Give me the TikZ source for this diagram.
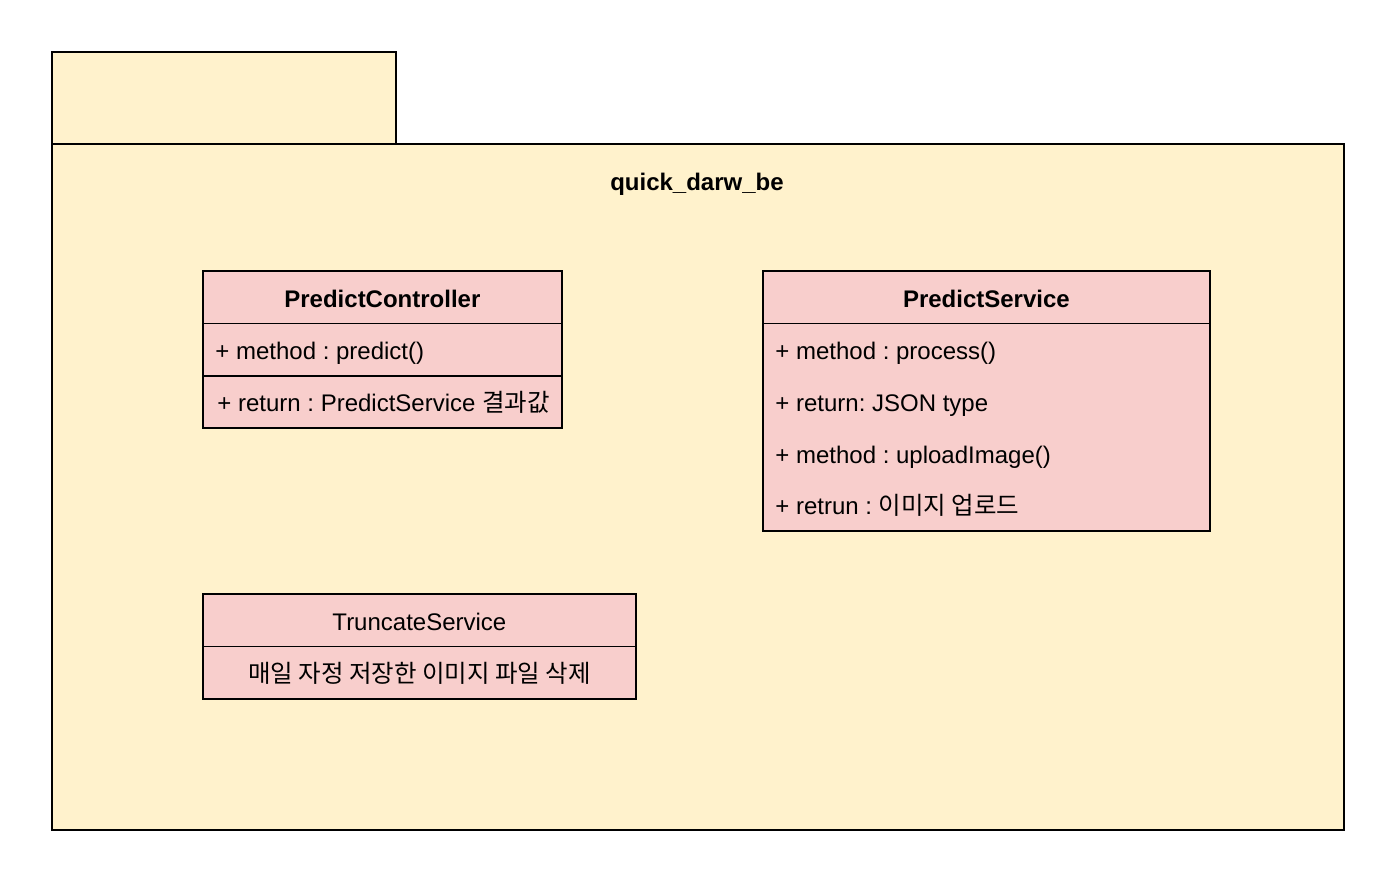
\documentclass[tikz,border=0pt]{standalone}
\usepackage{fontspec}
\setmainfont{Liberation Sans}
\newfontfamily\cjk[Scale=1.02]{Noto Sans CJK KR}
\usetikzlibrary{positioning}
\definecolor{pkgyellow}{HTML}{FFF2CC}
\definecolor{classred}{HTML}{F8CECC}
\frenchspacing

\tikzset{
  txt/.style={font=\fontsize{12}{14}\selectfont, inner sep=0pt, text height=11pt, text depth=0.8pt},
  pkgbox/.style={draw, line width=1pt, fill=pkgyellow, anchor=north west, inner sep=0pt},
  classcell/.style={fill=classred, anchor=north west, inner sep=0pt, minimum height=26pt, font=\fontsize{12}{14}\selectfont},
  rowtxt/.style={txt, anchor=west},
  sepline/.style={line width=0.5pt},
  outline/.style={line width=1pt}
}

\begin{document}
\begin{tikzpicture}[x=0.5pt,y=-0.5pt]
\useasboundingbox (0,0) rectangle (1394,880);

% package
\node[pkgbox, minimum width=172pt, minimum height=46pt] (pkgtab) at (51,51) {};
\node[pkgbox, minimum width=646pt, minimum height=343pt] (pkg) at (51,143) {};
\node[txt, font=\fontsize{12}{14}\selectfont\bfseries] (pkgname) at (697,180) {quick\_darw\_be};

% PredictController
\node[classcell, minimum width=179pt] (ctrl) at (203,271) {};
\node[txt, font=\fontsize{12}{14}\selectfont\bfseries] at (ctrl.center) {PredictController};
\node[classcell, minimum width=179pt] (ctrlattr) at (203,323) {};
\node[classcell, minimum width=179pt] (ctrlret) at (203,375) {};
\node[rowtxt] (ctrlattrtxt) at (215,349) {+ method : predict()};
\node[rowtxt] (ctrlrettxt) at (217,401) {+ return : PredictService {\cjk 결과값}};
\draw[sepline] (ctrl.south west) -- (ctrl.south east);
\draw[outline] (ctrlattr.south west) -- (ctrlattr.south east);
\draw[outline] (ctrl.north west) rectangle (ctrlret.south east);

% PredictService
\node[classcell, minimum width=223pt] (svc) at (763,271) {};
\node[txt, font=\fontsize{12}{14}\selectfont\bfseries] at (svc.center) {PredictService};
\node[classcell, minimum width=223pt, minimum height=103.5pt] (svcbody) at (763,323) {};
\node[rowtxt] (svcrow1) at (775,349) {+ method : process()};
\node[rowtxt] (svcrow2) at (775,401) {+ return: JSON type};
\node[rowtxt] (svcrow3) at (775,453) {+ method : uploadImage()};
\node[rowtxt] (svcrow4) at (775,504) {+ retrun : {\cjk 이미지 업로드}};
\draw[sepline] (svc.south west) -- (svc.south east);
\draw[outline] (svc.north west) rectangle (svcbody.south east);

% TruncateService
\node[classcell, minimum width=216pt] (trunc) at (203,594) {};
\node[txt] at (trunc.center) {TruncateService};
\node[classcell, minimum width=216pt] (truncbody) at (203,646) {};
\node[txt] at (truncbody.center) {\cjk 매일 자정 저장한 이미지 파일 삭제};
\draw[sepline] (trunc.south west) -- (trunc.south east);
\draw[outline] (trunc.north west) rectangle (truncbody.south east);
\end{tikzpicture}
\end{document}
